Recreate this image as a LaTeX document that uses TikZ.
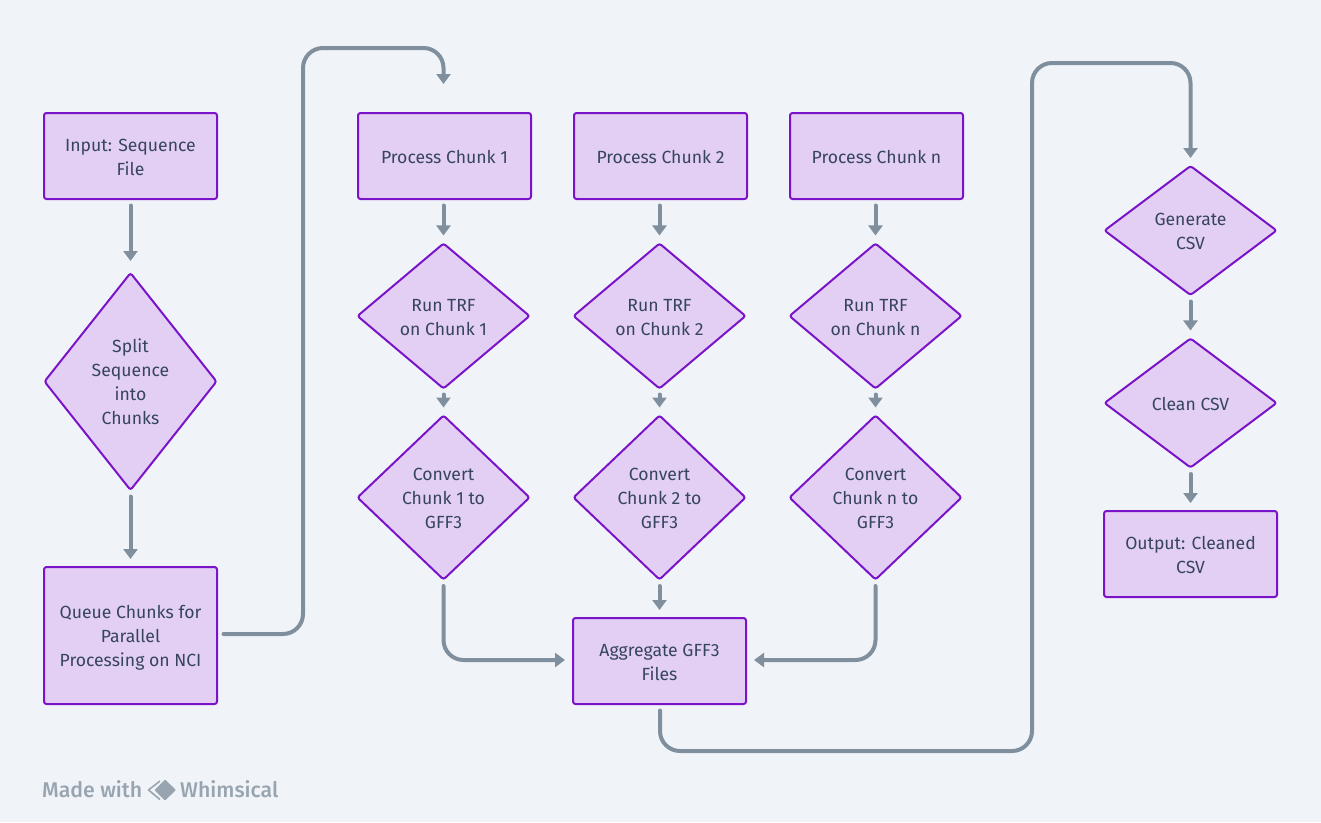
\documentclass[tikz,border=0pt]{standalone}
\usepackage{fontspec}
\setmainfont{Fira Sans}
\newfontfamily\brandfont{Fira Sans Medium}
\usetikzlibrary{shapes.geometric,arrows.meta}
\definecolor{bgc}{HTML}{F0F4F8}
\definecolor{fillc}{HTML}{E3CFF4}
\definecolor{strokec}{HTML}{7B14C9}
\definecolor{linec}{HTML}{7F8F9E}
\definecolor{textc}{HTML}{36455A}
\definecolor{markc}{HTML}{98A5B0}
\newcommand{\topstrut}{\rule{0pt}{18pt}}
\newcommand{\botstrut}{\rule[-4pt]{0pt}{4pt}}
\tikzset{
  x=1pt,y=-1pt,
  base/.style={fill=fillc,draw=strokec,line width=2pt,text=textc,align=center,inner sep=0pt,outer sep=0pt,rounded corners=2.5pt,
     font=\fontsize{17.6pt}{24pt}\selectfont},
  box/.style={base,rectangle,minimum width=173pt,minimum height=86pt},
  dia/.style={base,diamond,minimum width=172pt,minimum height=#1},
  conn/.style={draw=linec,line width=4pt,line cap=round,rounded corners=20pt,
     -{Triangle[width=14pt,length=10pt]},shorten <=6.5pt},
  gapS/.style={shorten >=12pt},
  gapH/.style={shorten >=8pt},
  gapL/.style={shorten >=29pt},
  brand/.style={text=markc,font=\brandfont\fontsize{21.3pt}{24pt}\selectfont,anchor=base west,inner sep=0pt},
}
\begin{document}
\begin{tikzpicture}
\fill[bgc] (0,0) rectangle (1321,822);
\useasboundingbox (0,0) rectangle (1321,822);

\node[box] (input) at (130.5,156) {\topstrut Input: Sequence\\File\botstrut};
\node[dia=217pt] (split) at (130.5,381.5) {\topstrut Split\\Sequence\\into\\Chunks\botstrut};
\node[box,minimum height=137pt] (queue) at (130.5,635.5) {\topstrut Queue Chunks for\\Parallel\\Processing on NCI\botstrut};

\node[box] (p1) at (444.5,156) {\topstrut Process Chunk 1\botstrut};
\node[box] (p2) at (660.5,156) {\topstrut Process Chunk 2\botstrut};
\node[box] (pn) at (876.5,156) {\topstrut Process Chunk n\botstrut};

\node[dia=145pt] (r1) at (443.5,316) {\topstrut Run TRF\\on Chunk 1\botstrut};
\node[dia=145pt] (r2) at (659.5,316) {\topstrut Run TRF\\on Chunk 2\botstrut};
\node[dia=145pt] (rn) at (875.5,316) {\topstrut Run TRF\\on Chunk n\botstrut};

\node[dia=164pt] (c1) at (443.5,497.5) {\topstrut Convert\\Chunk 1 to\\GFF3\botstrut};
\node[dia=164pt] (c2) at (659.5,497.5) {\topstrut Convert\\Chunk 2 to\\GFF3\botstrut};
\node[dia=164pt] (cn) at (875.5,497.5) {\topstrut Convert\\Chunk n to\\GFF3\botstrut};

\node[box] (agg) at (659.5,661) {\topstrut Aggregate GFF3\\Files\botstrut};

\node[dia=129pt] (gen) at (1190.5,230.5) {\topstrut Generate\\CSV\botstrut};
\node[dia=129pt] (clean) at (1190.5,403) {\topstrut Clean CSV\botstrut};
\node[box] (out) at (1190.5,554) {\topstrut Output: Cleaned\\CSV\botstrut};

\coordinate (a1) at (303,634);
\coordinate (a2) at (303,48);
\coordinate (a3) at (443.5,48);
\coordinate (b1) at (660,751);
\coordinate (b2) at (1032,751);
\coordinate (b3) at (1032,63);
\coordinate (b4) at (1190.5,63);
\coordinate (jl) at (443.5,660);
\coordinate (jr) at (875.5,660);

\draw[conn,gapS] (input) -- (split);
\draw[conn,gapH] (split) -- (queue);
\draw[conn,gapL] (queue.east |- a1) -- (a1) -- (a2) -- (a3) -- (p1.north -| a3);

\draw[conn,gapH] (p1.south -| r1) -- (r1);
\draw[conn,gapH] (p2.south -| r2) -- (r2);
\draw[conn,gapH] (pn.south -| rn) -- (rn);
\draw[conn,gapH,shorten <=6pt] (r1) -- (c1);
\draw[conn,gapH,shorten <=6pt] (r2) -- (c2);
\draw[conn,gapH,shorten <=6pt] (rn) -- (cn);

\draw[conn,gapH] (c1.south) -- (jl) -- (agg.west |- jl);
\draw[conn,gapH] (c2.south) -- (agg.north -| c2.south);
\draw[conn,gapH] (cn.south) -- (jr) -- (agg.east |- jr);

\draw[conn,shorten >=8pt] (agg.south -| b1) -- (b1) -- (b2) -- (b3) -- (b4) -- (gen.north);

\draw[conn,gapH] (gen) -- (clean);
\draw[conn,gapH] (clean) -- (out);

% footer
\node[brand] (made) at (42,797) {Made with};
\node[brand] (whim) at (180,797) {Whimsical};
\draw[markc,line width=1.6pt,line join=round] (160,781) -- (148.5,790) -- (160,799.5);
\fill[markc,rounded corners=1pt] (165,779.5) -- (176,790) -- (165,800.5) -- (154.5,790) -- cycle;
\end{tikzpicture}
\end{document}
